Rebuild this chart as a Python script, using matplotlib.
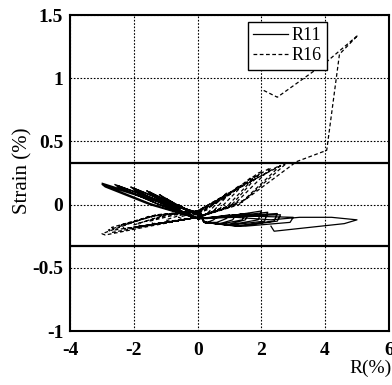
import matplotlib
matplotlib.use("Agg")
import matplotlib.pyplot as plt

plt.rcParams['font.family'] = ['Liberation Serif', 'DejaVu Serif']

# R11 (solid) hysteresis path, cycle by cycle
r11_x = [0.2, -0.2, -0.6, -0.5, -0.2, 0.0, 0.3, 0.6, 0.5, 0.3, 0.2,
         0.1, -0.5, -1.0, -0.9, -0.5, 0.0, 0.5, 1.0, 0.9, 0.6, 0.2,
         0.1, -0.6, -1.2, -1.1, -0.6, 0.0, 0.6, 1.2, 1.1, 0.7, 0.2,
         0.1, -0.7, -1.5, -1.4, -0.7, 0.0, 0.7, 1.5, 1.4, 0.8, 0.2,
         0.1, -0.8, -1.6, -1.5, -0.8, 0.0, 0.8, 1.6, 1.5, 0.9, 0.2,
         0.1, -1.0, -2.0, -1.9, -1.0, 0.0, 1.0, 2.0, 1.9, 1.0, 0.2,
         0.1, -1.0, -2.1, -2.0, -1.0, 0.0, 1.1, 2.2, 2.1, 1.1, 0.2,
         0.1, -1.2, -2.5, -2.4, -1.2, 0.0, 1.2, 2.5, 2.4, 1.2, 0.2,
         0.1, -1.3, -2.6, -2.5, -1.3, 0.0, 1.3, 2.6, 2.5, 1.3, 0.2,
         0.1, -1.5, -3.0, -2.9, -1.5, 0.0, 1.5, 3.0, 2.9, 1.5, 0.2,
         0.1, -1.5, -3.0, -2.9, -1.5, 0.0, 1.2, 2.3, 3.2, 4.2, 5.0, 4.6, 3.5, 2.4, 2.3]
r11_y = [-0.10, -0.06, 0.00, -0.02, -0.08, -0.11, -0.11, -0.10, -0.12, -0.14, -0.13,
         -0.09, -0.02, 0.05, 0.03, -0.05, -0.11, -0.10, -0.08, -0.11, -0.14, -0.14,
         -0.09, -0.01, 0.08, 0.06, -0.04, -0.11, -0.10, -0.08, -0.12, -0.15, -0.14,
         -0.09, 0.00, 0.10, 0.08, -0.03, -0.11, -0.10, -0.07, -0.12, -0.15, -0.14,
         -0.08, 0.01, 0.11, 0.09, -0.02, -0.11, -0.09, -0.07, -0.12, -0.16, -0.14,
         -0.08, 0.02, 0.13, 0.11, -0.01, -0.11, -0.09, -0.05, -0.12, -0.16, -0.14,
         -0.08, 0.03, 0.14, 0.12, 0.00, -0.11, -0.09, -0.06, -0.13, -0.16, -0.14,
         -0.08, 0.03, 0.15, 0.13, 0.00, -0.11, -0.09, -0.07, -0.13, -0.17, -0.14,
         -0.07, 0.04, 0.16, 0.14, 0.01, -0.11, -0.09, -0.08, -0.13, -0.17, -0.14,
         -0.07, 0.05, 0.17, 0.15, 0.01, -0.11, -0.09, -0.10, -0.14, -0.17, -0.14,
         -0.07, 0.04, 0.16, 0.14, 0.00, -0.11, -0.10, -0.12, -0.10, -0.10, -0.12, -0.15, -0.18, -0.21, -0.17]

# R16 (dashed) hysteresis path
r16_x = [0.0, -0.3, -0.6, -0.5, -0.3, 0.0, 0.3, 0.6, 0.5, 0.3,
         0.0, -0.5, -1.0, -0.9, -0.5, 0.0, 0.5, 1.0, 0.9, 0.5,
         0.0, -0.7, -1.5, -1.4, -0.7, 0.0, 0.7, 1.4, 1.3, 0.7,
         0.0, -0.9, -1.9, -1.8, -0.9, 0.0, 0.9, 1.8, 1.7, 0.9,
         0.0, -1.0, -2.0, -1.9, -1.0, 0.0, 1.0, 2.0, 1.9, 1.0,
         0.0, -1.2, -2.4, -2.3, -1.2, 0.0, 1.1, 2.3, 2.2, 1.1,
         0.0, -1.3, -2.7, -2.6, -1.3, 0.0, 1.3, 2.6, 2.5, 1.3,
         0.0, -1.4, -2.8, -2.7, -1.4, 0.0, 1.4, 2.8, 2.7, 1.4,
         0.0, -1.5, -3.0, -2.9, -1.5, 0.0, 1.5, 3.1, 4.05, 4.45, 5.03, 4.0, 3.5, 2.5, 2.02]
r16_y = [-0.08, -0.08, -0.10, -0.11, -0.11, -0.10, -0.07, 0.01, 0.01, -0.04,
         -0.07, -0.08, -0.12, -0.13, -0.12, -0.10, -0.05, 0.09, 0.09, 0.00,
         -0.07, -0.08, -0.13, -0.15, -0.13, -0.10, -0.03, 0.15, 0.15, 0.03,
         -0.06, -0.08, -0.15, -0.17, -0.14, -0.10, -0.02, 0.22, 0.22, 0.06,
         -0.06, -0.08, -0.16, -0.18, -0.14, -0.10, -0.02, 0.26, 0.25, 0.08,
         -0.05, -0.08, -0.16, -0.19, -0.15, -0.10, -0.01, 0.29, 0.28, 0.11,
         -0.05, -0.08, -0.18, -0.20, -0.15, -0.10, 0.00, 0.31, 0.30, 0.13,
         -0.05, -0.09, -0.20, -0.22, -0.16, -0.10, 0.02, 0.33, 0.32, 0.15,
         -0.05, -0.09, -0.23, -0.24, -0.17, -0.10, 0.04, 0.34, 0.43, 1.19, 1.34, 1.12, 1.03, 0.85, 0.91]

limit_lines = [0.33, -0.33]
x_ticks = [-4, -2, 0, 2, 4, 6]
y_ticks = [-1, -0.5, 0, 0.5, 1, 1.5]
y_tick_labels = ['-1', '-0.5', '0', '0.5', '1', '1.5']

fig = plt.figure(figsize=(3.92, 3.85), dpi=100)
ax = fig.add_axes([0.179, 0.140, 0.813, 0.821])

ax.set_xlim(-4, 6)
ax.set_ylim(-1, 1.5)
ax.grid(True, color='black', linestyle=(0, (1.5, 1.5)), linewidth=0.8)
ax.set_axisbelow(True)

for yl in limit_lines:
    ax.axhline(yl, color='black', linewidth=1.6)

ax.plot(r11_x, r11_y, color='black', linewidth=0.9, label='R11')
ax.plot(r16_x, r16_y, color='black', linewidth=0.9, linestyle=(0, (3, 2)), label='R16')

ax.set_xticks(x_ticks)
ax.set_xticklabels([str(t) for t in x_ticks])
ax.set_yticks(y_ticks)
ax.set_yticklabels(y_tick_labels)
ax.tick_params(axis='both', length=0, labelsize=14)
ax.tick_params(axis='x', pad=8)
ax.tick_params(axis='y', pad=5)
for lab in ax.get_xticklabels() + ax.get_yticklabels():
    lab.set_fontweight('bold')

for sp in ax.spines.values():
    sp.set_linewidth(1.5)
    sp.set_color('black')

ax.set_ylabel('Strain (%)', fontsize=15)
ax.yaxis.set_label_coords(-0.147, 0.506)
ax.yaxis.label.set_va('center')
ax.set_xlabel('R(%)', fontsize=14)
ax.xaxis.set_label_coords(1.01, -0.117)
ax.xaxis.label.set_ha('right')
ax.xaxis.label.set_va('center')

leg = ax.legend(loc='upper left', bbox_to_anchor=(0.558, 0.978), borderaxespad=0,
                fontsize=13, frameon=True, fancybox=False, handlelength=1.9,
                handletextpad=0.2, borderpad=0.3, labelspacing=0.15)
leg.get_frame().set_edgecolor('black')
leg.get_frame().set_linewidth(1.0)
leg.get_frame().set_alpha(1)

fig.savefig('out.png', dpi=100)
